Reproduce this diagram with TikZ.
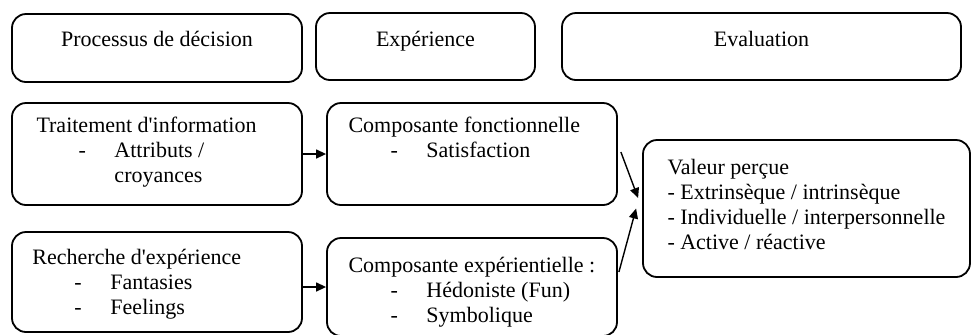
\documentclass[tikz,border=0pt]{standalone}
\usepackage{fontspec}
\setmainfont{Liberation Serif}
\usetikzlibrary{arrows.meta,positioning}
\newcommand{\puce}[1]{\hspace*{21pt}\makebox[18pt][l]{-}#1}

\begin{document}
\begin{tikzpicture}[x=0.5pt,y=-0.5pt,
  box node/.style={draw,rounded corners=7pt,line width=0.9pt,inner sep=0pt},
  title node/.style={font=\fontsize{11pt}{12.5pt}\selectfont,anchor=base,inner sep=0pt},
  text node/.style={font=\fontsize{11pt}{12.5pt}\selectfont,align=left,anchor=north west,inner sep=0pt},
  every edge/.style={draw,line width=0.7pt,-{Triangle[length=5pt,width=4.5pt]}}]
    \useasboundingbox (0,0) rectangle (971,334);

    % the three columns
    \node[box node,minimum width=145pt,minimum height=34pt] at (157,48) (proc) {};
    \node[box node,minimum width=109.5pt,minimum height=33.5pt] at (425.5,46.5) (exp) {};
    \node[box node,minimum width=199.5pt,minimum height=33.5pt] at (761.5,46.5) (eval) {};
    \node[title node] at ([yshift=-16.5pt]proc.north) (proct) {Processus de décision};
    \node[title node] at ([yshift=-17pt]exp.north) (expt) {Expérience};
    \node[title node] at ([yshift=-17pt]eval.north) (evalt) {Evaluation};

    % boxes
    \node[box node,minimum width=145pt,minimum height=51pt] at (157,154) (trait) {};
    \node[box node,minimum width=145pt,minimum height=51pt] at (472,154) (fonc) {};
    \node[box node,minimum width=145pt,minimum height=50pt] at (157,282) (rech) {};
    \node[box node,minimum width=145pt,minimum height=49pt] at (472,287) (expe) {};
    \node[box node,minimum width=163.5pt,minimum height=68.5pt] at (806.5,208.5) (val) {};

    \node[text node] at ([shift={(25,12.5)}]trait.north west) (traitt)
        {\strut Traitement d\textquotesingle information\\\puce{Attributs /}\\\hspace*{39pt}croyances};
    \node[text node] at ([shift={(22,12.5)}]fonc.north west) (fonct)
        {\strut Composante fonctionnelle\\\puce{Satisfaction}};
    \node[text node] at ([shift={(21,15.5)}]rech.north west) (recht)
        {\strut Recherche d\textquotesingle expérience\\\puce{Fantasies}\\\puce{Feelings}};
    \node[text node] at ([shift={(22,17.5)}]expe.north west) (expet)
        {\strut Composante expérientielle :\\\puce{Hédoniste (Fun)}\\\puce{Symbolique}};
    \node[text node] at ([shift={(25,17.5)}]val.north west) (valt)
        {\strut Valeur perçue\\- Extrinsèque / intrinsèque\\- Individuelle / interpersonnelle\\- Active / réactive};

    \path (trait) edge (fonc)
        (rech.east |- expe.west) edge (expe.west)
        ([shift={(3,-2)}]fonc.east) edge ([shift={(-4,-10.5)}]val.west)
        ([shift={(1,-15)}]expe.east) edge ([shift={(-6,0)}]val.west)
        ;
\end{tikzpicture}
\end{document}
